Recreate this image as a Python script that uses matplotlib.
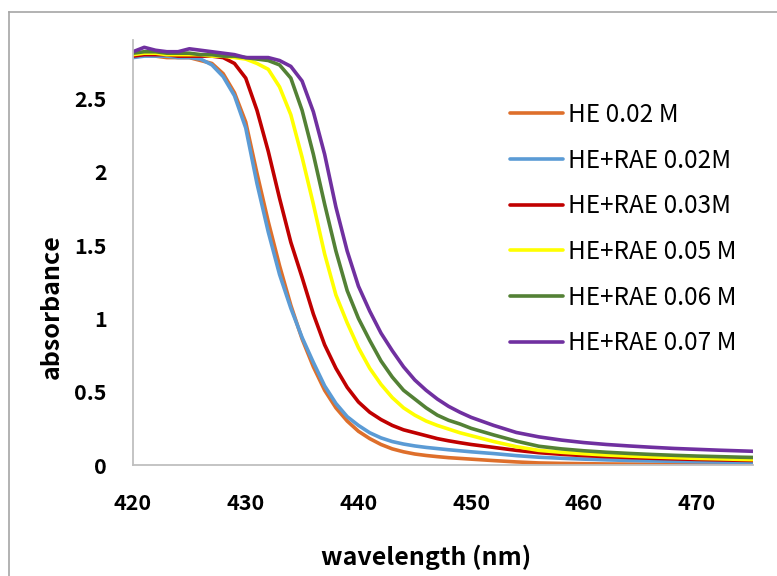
import matplotlib
matplotlib.use('Agg')
import matplotlib.pyplot as plt
from matplotlib.lines import Line2D

plt.rcParams['font.family'] = ['Noto Sans CJK KR', 'DejaVu Sans']

# wavelength grid (nm)
wl = [420, 421, 422, 423, 424, 425, 426, 427, 428, 429,
      430, 431, 432, 433, 434, 435, 436, 437, 438, 439,
      440, 441, 442, 443, 444, 445, 446, 447, 448, 449,
      450, 452, 454, 456, 458, 460, 462, 464, 466, 468,
      470, 472, 474, 476]

he_002 = [2.80, 2.80, 2.79, 2.78, 2.78, 2.78, 2.76, 2.74, 2.67, 2.54,
          2.34, 1.99, 1.66, 1.36, 1.09, 0.86, 0.67, 0.51, 0.39, 0.30,
          0.23, 0.18, 0.14, 0.11, 0.09, 0.075, 0.065, 0.057, 0.05, 0.045,
          0.04, 0.03, 0.021, 0.014, 0.011, 0.009, 0.007, 0.006, 0.005, 0.004,
          0.004, 0.003, 0.003, 0.003]

rae_002 = [2.78, 2.79, 2.79, 2.79, 2.78, 2.78, 2.77, 2.73, 2.65, 2.52,
           2.30, 1.92, 1.59, 1.30, 1.07, 0.87, 0.70, 0.54, 0.42, 0.33,
           0.27, 0.22, 0.185, 0.16, 0.143, 0.13, 0.12, 0.112, 0.104, 0.097,
           0.09, 0.078, 0.064, 0.053, 0.046, 0.04, 0.035, 0.031, 0.028, 0.025,
           0.022, 0.02, 0.018, 0.016]

rae_003 = [2.79, 2.80, 2.80, 2.80, 2.79, 2.79, 2.79, 2.79, 2.78, 2.74,
           2.64, 2.42, 2.14, 1.82, 1.52, 1.28, 1.03, 0.82, 0.66, 0.53,
           0.43, 0.36, 0.31, 0.27, 0.24, 0.22, 0.20, 0.18, 0.165, 0.152,
           0.14, 0.12, 0.10, 0.084, 0.073, 0.064, 0.057, 0.051, 0.046, 0.042,
           0.038, 0.035, 0.032, 0.03]

rae_005 = [2.80, 2.81, 2.81, 2.80, 2.80, 2.80, 2.80, 2.79, 2.79, 2.78,
           2.77, 2.74, 2.70, 2.58, 2.39, 2.10, 1.78, 1.44, 1.16, 0.97,
           0.80, 0.66, 0.55, 0.46, 0.39, 0.34, 0.30, 0.27, 0.245, 0.22,
           0.20, 0.16, 0.125, 0.10, 0.087, 0.077, 0.068, 0.061, 0.055, 0.05,
           0.045, 0.042, 0.038, 0.035]

rae_006 = [2.81, 2.82, 2.82, 2.81, 2.81, 2.81, 2.80, 2.80, 2.79, 2.79,
           2.78, 2.77, 2.76, 2.73, 2.64, 2.42, 2.12, 1.78, 1.46, 1.19,
           1.00, 0.85, 0.71, 0.60, 0.51, 0.45, 0.39, 0.34, 0.305, 0.28,
           0.25, 0.205, 0.163, 0.128, 0.11, 0.097, 0.087, 0.079, 0.072, 0.066,
           0.061, 0.057, 0.053, 0.05]

rae_007 = [2.82, 2.85, 2.83, 2.82, 2.82, 2.84, 2.83, 2.82, 2.81, 2.80,
           2.78, 2.78, 2.78, 2.76, 2.72, 2.62, 2.41, 2.12, 1.76, 1.46,
           1.22, 1.05, 0.90, 0.78, 0.67, 0.58, 0.51, 0.45, 0.40, 0.36,
           0.325, 0.27, 0.222, 0.192, 0.17, 0.153, 0.14, 0.13, 0.121, 0.113,
           0.107, 0.101, 0.096, 0.091]

labels = ['HE 0.02 M', 'HE+RAE 0.02M', 'HE+RAE 0.03M',
          'HE+RAE 0.05 M', 'HE+RAE 0.06 M', 'HE+RAE 0.07 M']
series = [he_002, rae_002, rae_003, rae_005, rae_006, rae_007]
colors = ['#DE6F2B', '#5B9BD5', '#C00000', '#FFFF00', '#538135', '#7030A0']

fig = plt.figure(figsize=(7.77, 5.76), dpi=100)
ax = fig.add_axes([133/777, 1 - 465/576, 620/777, 425/576])

for y, lab, c in zip(series, labels, colors):
    ax.plot(wl, y, color=c, lw=2.6, label=lab, solid_capstyle='round',
            solid_joinstyle='round')

ax.set_xlim(420, 475)
ax.set_ylim(0, 2.9)
ax.set_xticks([420, 430, 440, 450, 460, 470])
ax.set_yticks([0, 0.5, 1, 1.5, 2, 2.5])
ax.set_yticklabels(['0', '0.5', '1', '1.5', '2', '2.5'])
ax.tick_params(length=0, labelsize=15.5)
ax.tick_params(axis='x', pad=20)
ax.tick_params(axis='y', pad=19)
for t in ax.get_xticklabels() + ax.get_yticklabels():
    t.set_fontweight('bold')

for s in ['top', 'right']:
    ax.spines[s].set_visible(False)
for s in ['left', 'bottom']:
    ax.spines[s].set_color('#BFBFBF')
    ax.spines[s].set_linewidth(1.3)

ax.set_xlabel('wavelength (nm)', fontsize=18, fontweight='bold')
ax.set_ylabel('absorbance', fontsize=18, fontweight='bold')
ax.xaxis.set_label_coords(0.473, -0.188)
ax.yaxis.set_label_coords(-0.112, 0.372)

leg = ax.legend(loc='upper left', bbox_to_anchor=(488/777, 1 - 80/576),
                bbox_transform=fig.transFigure, frameon=False,
                fontsize=17.5, handlelength=2.2, handletextpad=0.2,
                labelspacing=0.81)

# chart area border
fig.add_artist(Line2D([9/777, 9/777], [0, 1 - 12/576], color='#A6A6A6', lw=1.2))
fig.add_artist(Line2D([9/777, 1], [1 - 12/576, 1 - 12/576], color='#A6A6A6', lw=1.2))

fig.savefig('out.png', dpi=100)
